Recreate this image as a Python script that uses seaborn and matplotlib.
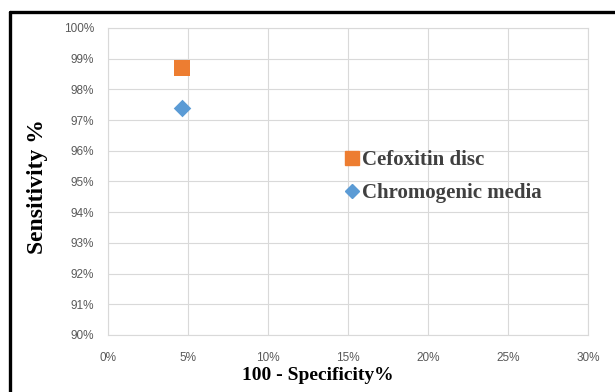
import pandas as pd
import numpy as np
import seaborn as sns
import matplotlib.pyplot as plt
from matplotlib.lines import Line2D

# data
tests = ["Cefoxitin disc", "Chromogenic media"]
fpr = [4.6, 4.6]          # 100 - specificity, %
sens = [98.7, 97.4]       # sensitivity, %
xticks = [0, 5, 10, 15, 20, 25, 30]
yticks = [90, 91, 92, 93, 94, 95, 96, 97, 98, 99, 100]

df = pd.DataFrame({"test": tests, "fpr": fpr, "sens": sens})

sns.set_style("whitegrid")
plt.rcParams['font.family'] = ['Liberation Sans', 'DejaVu Sans']

fig = plt.figure(figsize=(6.15, 3.92), dpi=100)
ax = fig.add_axes([108/615, 1-335/392, 480/615, 307/392])

pal = {"Cefoxitin disc": "#ED7D31", "Chromogenic media": "#5B9BD5"}
mk = {"Cefoxitin disc": "s", "Chromogenic media": "D"}
sizes = {"Cefoxitin disc": 140, "Chromogenic media": 80}
for t in tests:
    sub = df[df["test"] == t]
    sns.scatterplot(x="fpr", y="sens", data=sub, color=pal[t], marker=mk[t],
                    s=sizes[t], linewidth=0, ax=ax, zorder=3)

ax.set_xlim(0, 30)
ax.set_ylim(90, 100)
ax.set_xticks(xticks)
ax.set_yticks(yticks)
ax.set_xticklabels([f"{v}%" for v in xticks])
ax.set_yticklabels([f"{v}%" for v in yticks])
ax.tick_params(axis="both", length=0, labelsize=8.5, labelcolor="#595959")
ax.tick_params(axis="x", pad=12)
ax.tick_params(axis="y", pad=10)
ax.grid(True, color="#D9D9D9", linewidth=0.8)
for s in ax.spines.values():
    s.set_color("#D9D9D9")
    s.set_linewidth(0.8)

ax.set_xlabel("100 - Specificity%", family="Liberation Serif", fontweight="bold",
              fontsize=14, color="black")
ax.xaxis.set_label_coords((318-108)/480, -0.105)
ax.set_ylabel("Sensitivity %", family="Liberation Serif", fontweight="bold",
              fontsize=17, color="black")
ax.yaxis.set_label_coords((48-108)/480, 0.485)

handles = [Line2D([], [], linestyle="", marker=mk[t], color=pal[t],
                  markersize=10 if t == tests[0] else 7) for t in tests]
leg = ax.legend(handles, tests, loc="upper left",
                bbox_to_anchor=(334/615, 1-142/392), bbox_transform=fig.transFigure,
                frameon=False, handletextpad=0.05, handlelength=0.9,
                labelspacing=0.6, borderaxespad=0,
                prop={"family": "Liberation Serif", "weight": "bold", "size": 15})
for txt in leg.get_texts():
    txt.set_color("#404040")

# frame around the chart (top and left edges visible)
fig.add_artist(Line2D([10/615, 10/615], [0, 1-11.5/392], transform=fig.transFigure,
                      color="black", linewidth=2.4))
fig.add_artist(Line2D([10/615, 1], [1-11.5/392, 1-11.5/392], transform=fig.transFigure,
                      color="black", linewidth=2.4))

plt.savefig("out.png", dpi=100)
